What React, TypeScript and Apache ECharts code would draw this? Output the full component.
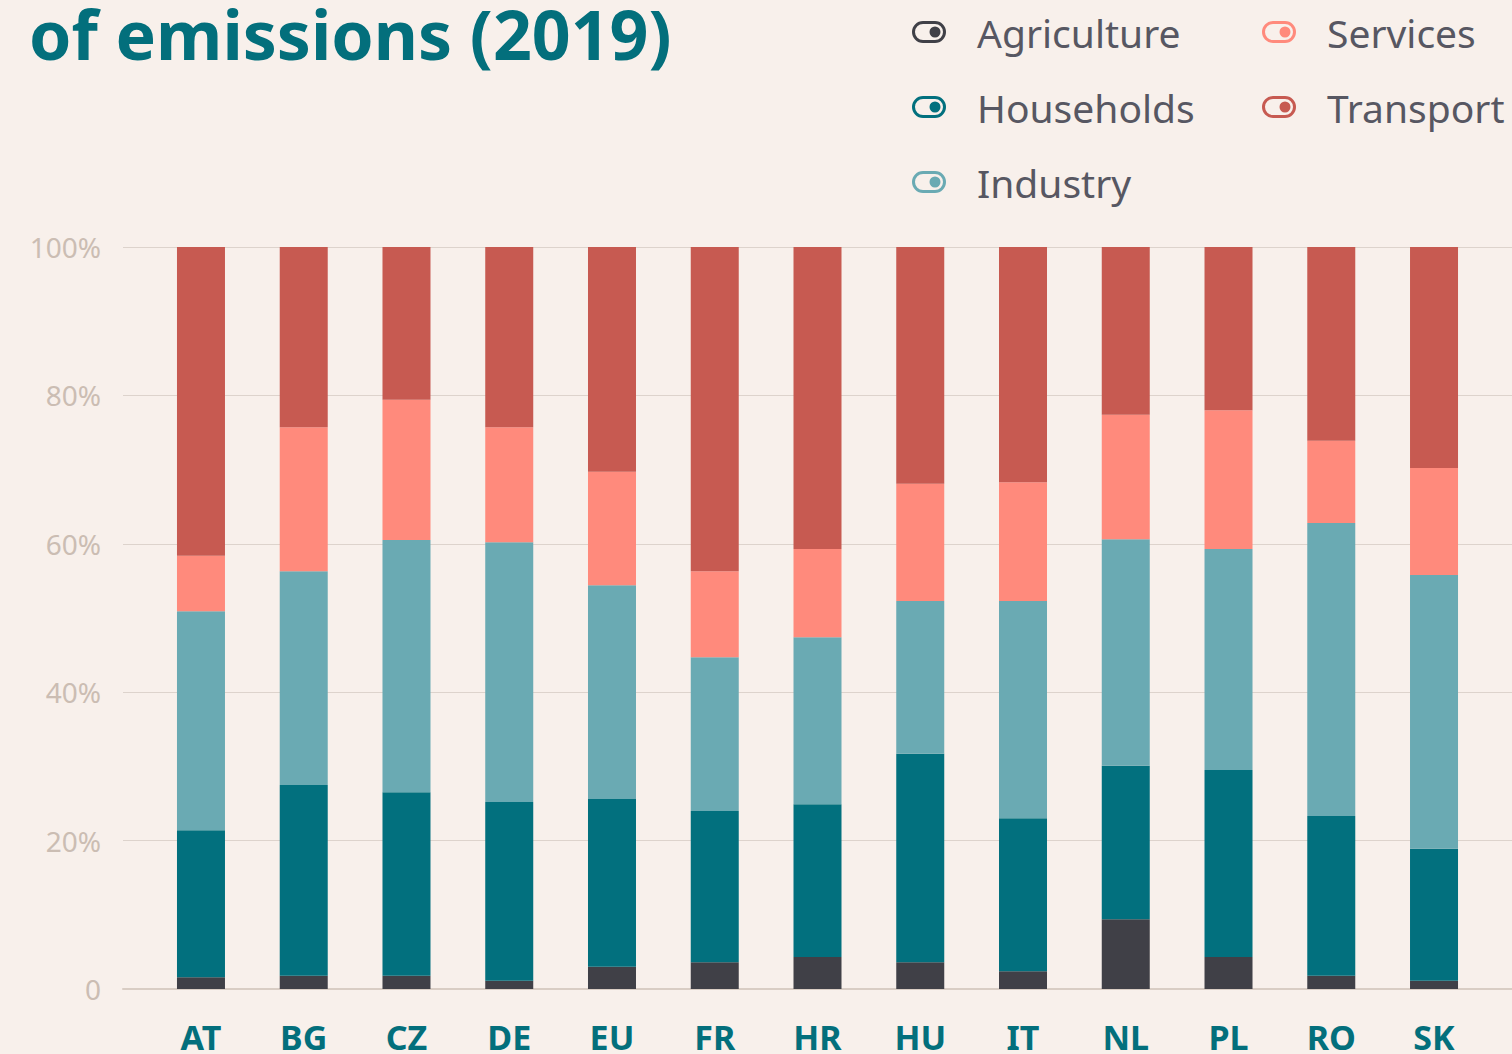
import React, { useEffect, useRef } from "react";
import * as echarts from "echarts";

const countries = ["AT", "BG", "CZ", "DE", "EU", "FR", "HR", "HU", "IT", "NL", "PL", "RO", "SK"];
const agriculture = [1.6, 1.8, 1.8, 1.1, 3.0, 3.6, 4.3, 3.6, 2.4, 9.4, 4.3, 1.8, 1.1];
const households = [19.8, 25.7, 24.7, 24.1, 22.6, 20.4, 20.6, 28.1, 20.6, 20.7, 25.2, 21.5, 17.8];
const industry = [29.5, 28.8, 34.0, 35.0, 28.8, 20.7, 22.5, 20.6, 29.3, 30.5, 29.8, 39.5, 36.9];
const services = [7.5, 19.4, 18.9, 15.5, 15.3, 11.6, 11.9, 15.8, 16.0, 16.8, 18.7, 11.1, 14.4];
const transport = [41.6, 24.3, 20.6, 24.3, 30.3, 43.7, 40.7, 31.9, 31.7, 22.6, 22.0, 26.1, 29.8];

const seriesNames = ["Agriculture", "Households", "Industry", "Services", "Transport"];
const seriesColors = ["#404047", "#02707e", "#6aaab3", "#ff8a7c", "#c75a51"];
const seriesData = [agriculture, households, industry, services, transport];

const titleText = "of emissions (2019)";

const toggleIcon =
  "path://M11,0 L23,0 A11,11 0 0 1 23,22 L11,22 A11,11 0 0 1 11,0 Z " +
  "M11,3 A8,8 0 0 0 11,19 L23,19 A8,8 0 0 0 23,3 Z " +
  "M23,5.5 A5.5,5.5 0 0 1 23,16.5 A5.5,5.5 0 0 1 23,5.5 Z";

const FONT = "'Noto Sans', Roboto, sans-serif";

export default function App() {
  const ref = useRef<HTMLDivElement>(null);
  useEffect(() => {
    if (!ref.current) return;
    const chart = echarts.init(ref.current, undefined, { renderer: "svg" });
    const legendCommon = {
      orient: "vertical" as const,
      icon: toggleIcon,
      itemWidth: 34,
      itemHeight: 22,
      itemGap: 35,
      padding: 0,
      selectedMode: false,
      textStyle: {
        fontFamily: FONT,
        fontSize: 39,
        color: "#575762",
        lineHeight: 40,
        padding: [0, 0, 0, 26],
      },
    };
    chart.setOption({
      animation: false,
      backgroundColor: "#f8f0eb",
      textStyle: { fontFamily: FONT },
      title: {
        text: titleText,
        left: 29,
        top: -7,
        padding: 0,
        textStyle: { fontFamily: FONT, fontSize: 68, fontWeight: "bold", color: "#036f7c", lineHeight: 80 },
      },
      legend: [
        { ...legendCommon, left: 912, top: 12, data: ["Agriculture", "Households", "Industry"] },
        { ...legendCommon, left: 1262, top: 12, data: ["Services", "Transport"] },
      ],
      grid: [
        { left: 123, right: 0, top: 247, bottom: 65 },
        { left: 149.6, right: 26.6, top: 247, bottom: 65 },
      ],
      xAxis: [
        {
          type: "category",
          gridIndex: 0,
          data: countries,
          axisLine: { show: true, lineStyle: { color: "#d9cdc4", width: 2 } },
          axisTick: { show: false },
          axisLabel: { show: false },
        },
        {
          type: "category",
          gridIndex: 1,
          data: countries,
          axisLine: { show: false },
          axisTick: { show: false },
          axisLabel: {
            margin: 33,
            fontFamily: FONT,
            fontSize: 34,
            lineHeight: 30,
            fontWeight: "bold",
            color: "#036f7c",
          },
        },
      ],
      yAxis: [
        {
          type: "value",
          gridIndex: 0,
          min: 0,
          max: 100,
          interval: 20,
          axisLine: { show: false },
          axisTick: { show: false },
          splitLine: { lineStyle: { color: "#ddd3cc", width: 1 } },
          axisLabel: {
            margin: 22,
            fontFamily: FONT,
            fontSize: 28,
            color: "#cbbdb3",
            formatter: (v: number) => (v === 0 ? "0" : v + "%"),
          },
        },
        {
          type: "value",
          gridIndex: 1,
          min: 0,
          max: 100,
          interval: 20,
          axisLine: { show: false },
          axisTick: { show: false },
          splitLine: { show: false },
          axisLabel: { show: false },
        },
      ],
      series: seriesNames.map((name, i) => ({
        name,
        type: "bar",
        stack: "total",
        xAxisIndex: 1,
        yAxisIndex: 1,
        barWidth: 48,
        itemStyle: { color: seriesColors[i] },
        data: seriesData[i],
      })),
    });
    return () => chart.dispose();
  }, []);
  return (
    <div
      ref={ref}
      style={{ position: "fixed", left: 0, top: 0, width: 1512, height: 1054 }}
    />
  );
}
